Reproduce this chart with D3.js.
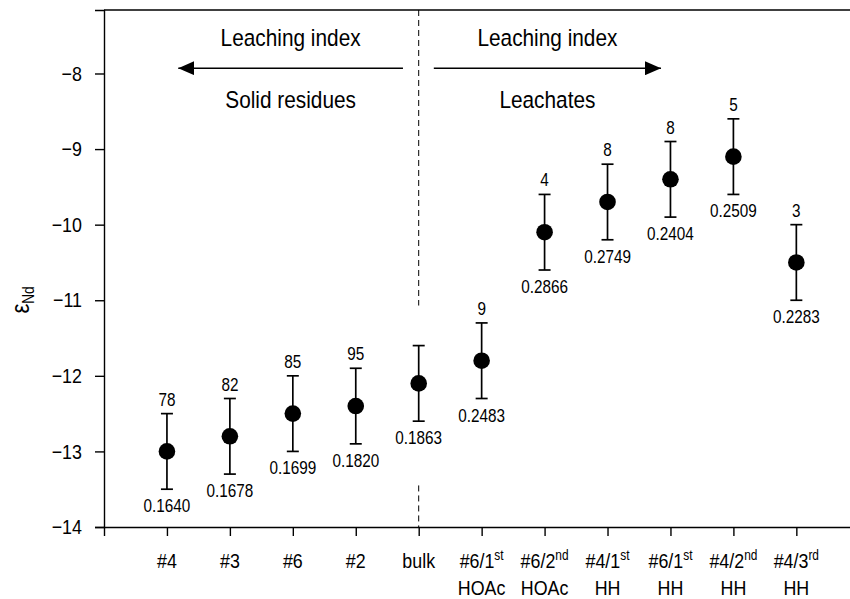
<!DOCTYPE html>
<html>
<head>
<meta charset="utf-8">
<script src="https://cdn.jsdelivr.net/npm/d3@7"></script>
<style>
  body { margin: 0; background: #fff; }
  svg { display: block; font-family: 'Liberation Sans', sans-serif; }
</style>
</head>
<body>
<div id="chart"></div>
<script>
// sample names: [main, superscript, second line]
const samples = [
  ['#4', '', ''], ['#3', '', ''], ['#6', '', ''], ['#2', '', ''], ['bulk', '', ''],
  ['#6/1', 'st', 'HOAc'], ['#6/2', 'nd', 'HOAc'], ['#4/1', 'st', 'HH'],
  ['#6/1', 'st', 'HH'], ['#4/2', 'nd', 'HH'], ['#4/3', 'rd', 'HH'],
];
const epsNd = [-13.0, -12.8, -12.5, -12.4, -12.1, -11.8, -10.1, -9.7, -9.4, -9.1, -10.5];
const errNd = [0.5, 0.5, 0.5, 0.5, 0.5, 0.5, 0.5, 0.5, 0.5, 0.5, 0.5];
const topLabels = ['78', '82', '85', '95', '', '9', '4', '8', '8', '5', '3'];
const bottomLabels = ['0.1640', '0.1678', '0.1699', '0.1820', '0.1863', '0.2483',
  '0.2866', '0.2749', '0.2404', '0.2509', '0.2283'];
const yTicks = [-14, -13, -12, -11, -10, -9, -8];
const bulkIndex = 4;
// arrows: [from index, to index, upper text, lower text]
const arrows = [
  [3.75, 0.18, 'Leaching index', 'Solid residues'],
  [4.24, 7.85, 'Leaching index', 'Leachates'],
];

const width = 850;
const height = 599;
const margin = { top: 10, left: 104, bottom: 72 };
const sx = 0.85; // horizontal squeeze to mimic the condensed face

const x = d3.scaleLinear()
  .domain([-1, 11])
  .range([margin.left, margin.left + 12 * 62.94]);
const y = d3.scaleLinear()
  .domain([-14, -7.16])
  .range([height - margin.bottom, margin.top]);

const svg = d3.select('#chart')
  .append('svg')
  .attr('width', width)
  .attr('height', height);

const place = (fx, fy) => (d, i) => `translate(${fx(d, i)},${fy(d, i)}) scale(${sx},1)`;

// frame top line
svg.append('line')
  .attr('x1', x(-1)).attr('x2', x(11))
  .attr('y1', y(-7.16)).attr('y2', y(-7.16))
  .attr('stroke', '#000').attr('stroke-width', 1.4);

// dashed divider at bulk
const bx = x(bulkIndex);
svg.append('line')
  .attr('x1', bx).attr('x2', bx)
  .attr('y1', y(-7.16)).attr('y2', y(-11.07))
  .attr('stroke', '#000').attr('stroke-dasharray', '6,4').attr('stroke-width', 1);
svg.append('line')
  .attr('x1', bx).attr('x2', bx)
  .attr('y1', y(-13.45)).attr('y2', y(-14))
  .attr('stroke', '#000').attr('stroke-dasharray', '6,4').attr('stroke-width', 1);

// y axis
const yAxis = svg.append('g')
  .attr('transform', `translate(${margin.left},0)`)
  .call(d3.axisLeft(y).tickValues(yTicks).tickSize(9).tickPadding(17).tickFormat(d3.format('d')));
yAxis.select('.domain').attr('stroke-width', 1.4);
yAxis.selectAll('.tick line').attr('stroke-width', 1.4);
yAxis.selectAll('text')
  .attr('font-size', 21).attr('font-family', null).attr('fill', '#000')
  .attr('transform', `scale(${sx},1)`);

// x axis
const xAxis = svg.append('g')
  .attr('transform', `translate(0,${y(-14)})`)
  .call(d3.axisBottom(x).tickValues(d3.range(samples.length)).tickSize(9).tickFormat(''));
xAxis.select('.domain').attr('stroke-width', 1.4);
xAxis.selectAll('.tick line').attr('stroke-width', 1.4);

const xLab = svg.append('g')
  .selectAll('text')
  .data(samples)
  .join('text')
  .attr('transform', place((d, i) => x(i), () => y(-14) + 41))
  .attr('text-anchor', 'middle')
  .attr('font-size', 21);
xLab.append('tspan').text((d) => d[0]);
xLab.append('tspan')
  .attr('font-size', 14)
  .attr('dy', -8)
  .text((d) => d[1]);
xLab.append('tspan')
  .attr('x', 0)
  .attr('dy', (d) => (d[1] ? 35 : 27))
  .text((d) => d[2]);

// y label
svg.append('text')
  .attr('transform', `translate(29,300) rotate(-90) scale(${sx},1)`)
  .attr('text-anchor', 'middle')
  .attr('font-size', 26)
  .call((t) => t.append('tspan').text('ε'))
  .call((t) => t.append('tspan').attr('font-size', 16).attr('dy', 5).text('Nd'));

// arrows
svg.append('defs').append('marker')
  .attr('id', 'head')
  .attr('viewBox', '0 0 16 14')
  .attr('refX', 16).attr('refY', 7)
  .attr('markerWidth', 16).attr('markerHeight', 14)
  .attr('markerUnits', 'userSpaceOnUse')
  .attr('orient', 'auto')
  .append('path')
  .attr('d', 'M0,0L16,7L0,14Z')
  .attr('fill', '#000');

const mid = (d) => (x(d[0]) + x(d[1])) / 2;
const ann = svg.append('g').selectAll('g').data(arrows).join('g');
ann.append('line')
  .attr('x1', (d) => x(d[0])).attr('x2', (d) => x(d[1]))
  .attr('y1', y(-7.93)).attr('y2', y(-7.93))
  .attr('stroke', '#000').attr('stroke-width', 1.5)
  .attr('marker-end', 'url(#head)');
ann.append('text')
  .attr('transform', place(mid, () => y(-7.93) - 22))
  .attr('text-anchor', 'middle')
  .attr('font-size', 24.5)
  .text((d) => d[2]);
ann.append('text')
  .attr('transform', place(mid, () => y(-7.93) + 40))
  .attr('text-anchor', 'middle')
  .attr('font-size', 24.5)
  .text((d) => d[3]);

// error bars and points
const pts = svg.append('g').selectAll('g').data(epsNd).join('g');
pts.append('line')
  .attr('x1', (d, i) => x(i)).attr('x2', (d, i) => x(i))
  .attr('y1', (d, i) => y(d - errNd[i])).attr('y2', (d, i) => y(d + errNd[i]))
  .attr('stroke', '#000').attr('stroke-width', 1.7);
pts.selectAll('.cap')
  .data((d, i) => [[i, d - errNd[i]], [i, d + errNd[i]]])
  .join('line')
  .attr('class', 'cap')
  .attr('x1', (d) => x(d[0]) - 6).attr('x2', (d) => x(d[0]) + 6)
  .attr('y1', (d) => y(d[1])).attr('y2', (d) => y(d[1]))
  .attr('stroke', '#000').attr('stroke-width', 1.7);
pts.append('circle')
  .attr('cx', (d, i) => x(i))
  .attr('cy', (d) => y(d))
  .attr('r', 8.3)
  .attr('fill', '#000');
pts.append('text')
  .attr('transform', place((d, i) => x(i), (d, i) => y(d + errNd[i]) - 8))
  .attr('text-anchor', 'middle')
  .attr('font-size', 18)
  .text((d, i) => topLabels[i]);
pts.append('text')
  .attr('transform', place((d, i) => x(i), (d, i) => y(d - errNd[i]) + 23))
  .attr('text-anchor', 'middle')
  .attr('font-size', 18)
  .text((d, i) => bottomLabels[i]);
</script>
</body>
</html>
